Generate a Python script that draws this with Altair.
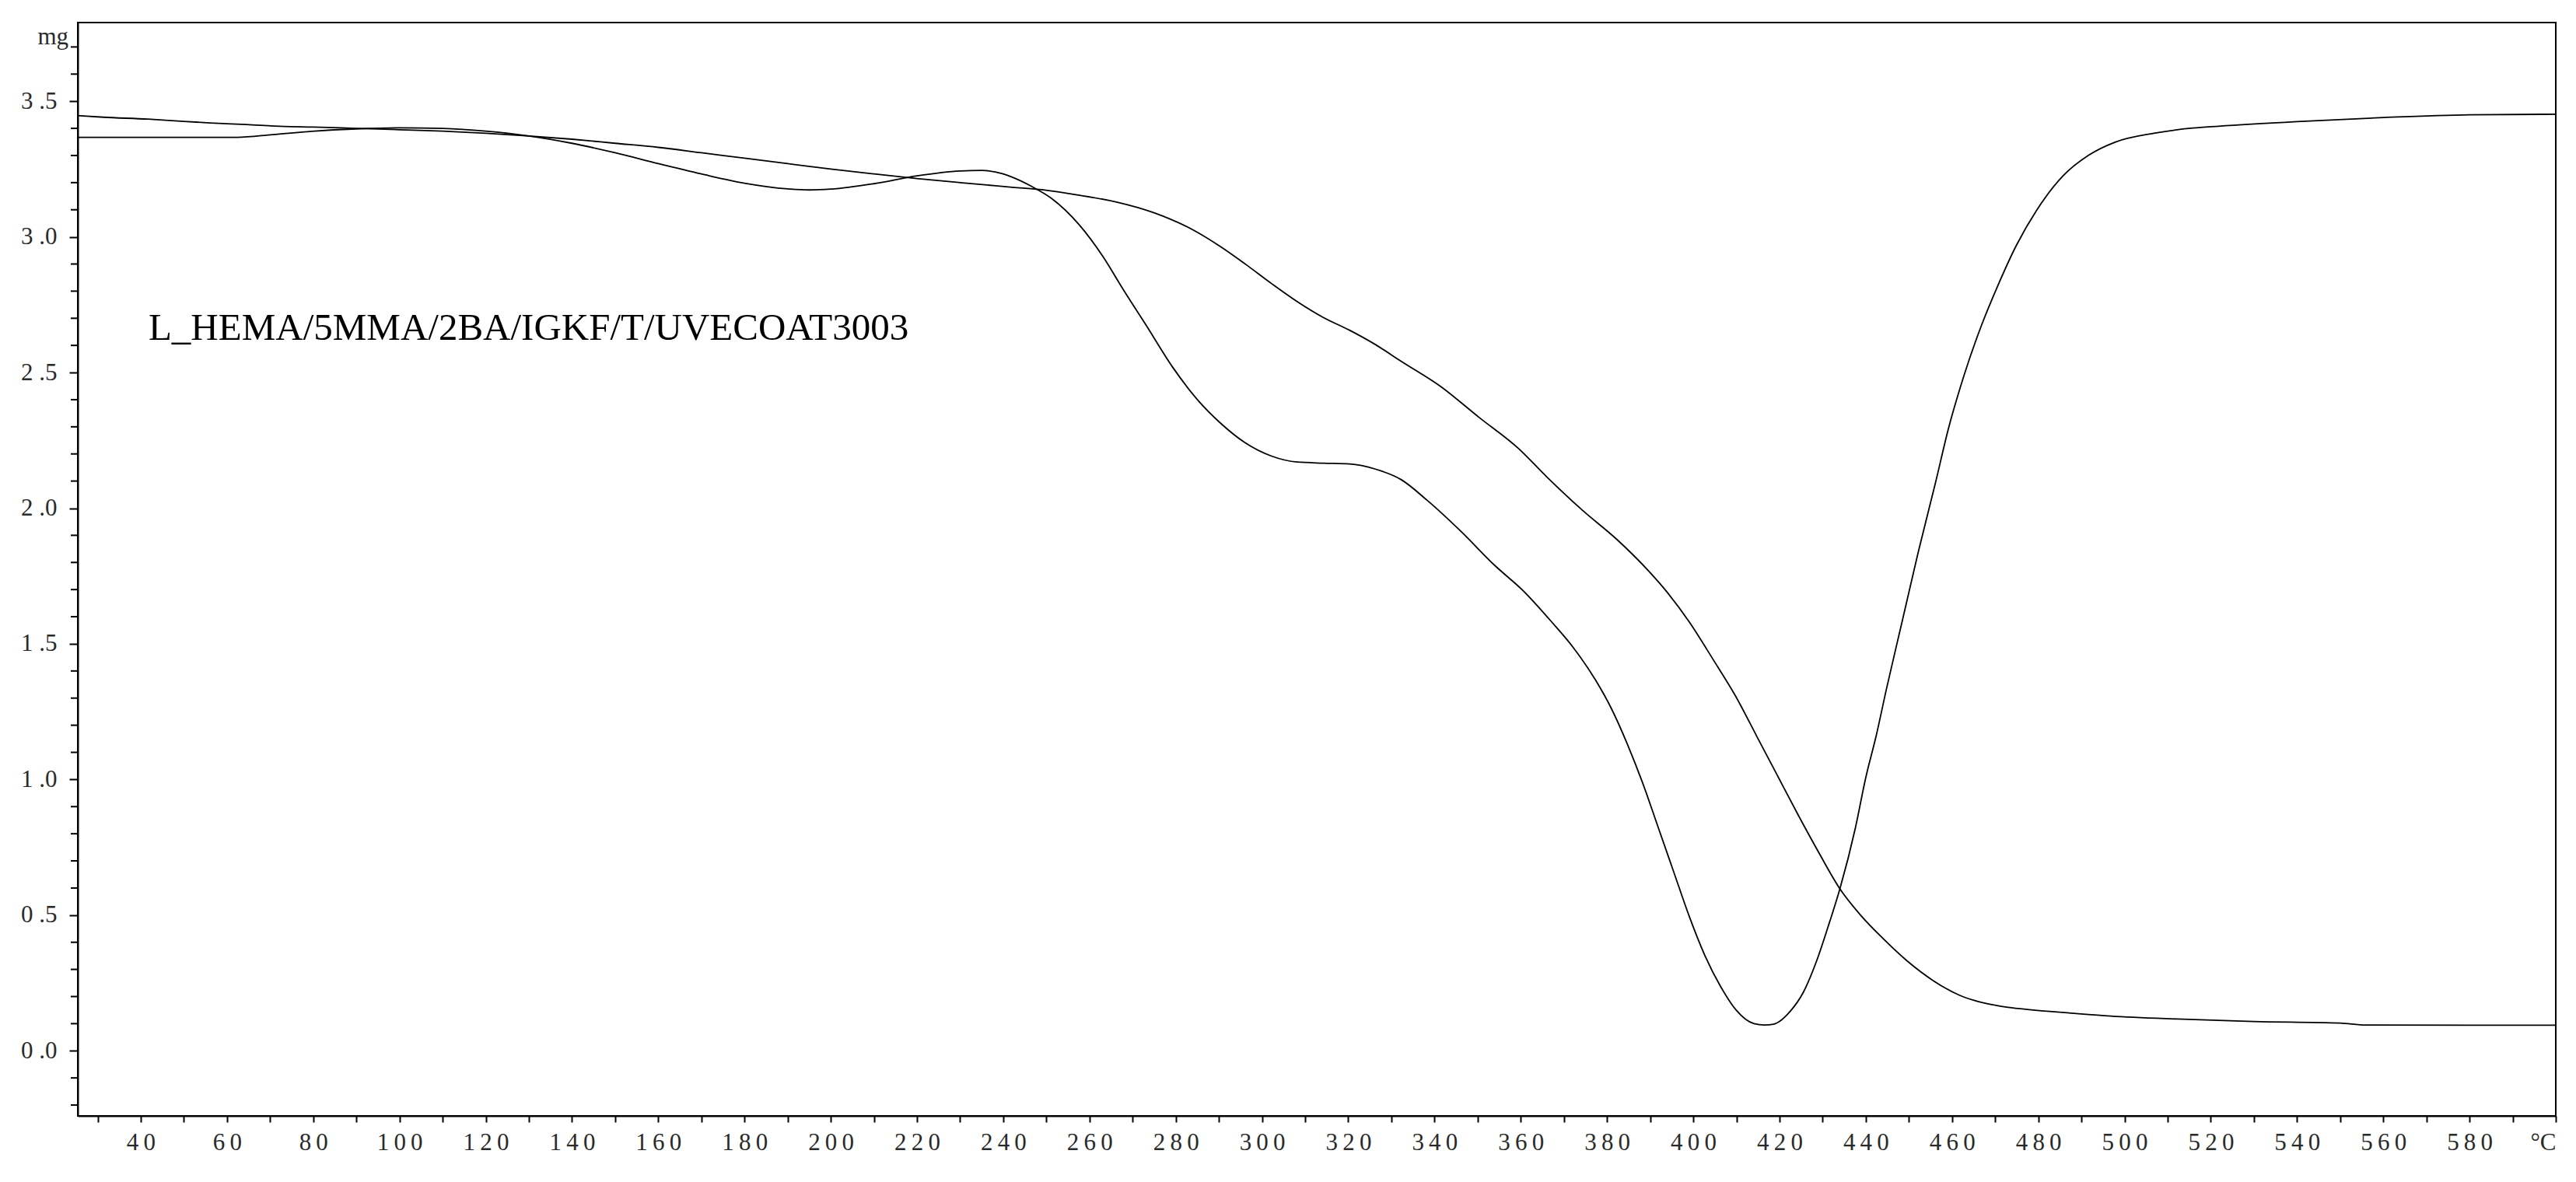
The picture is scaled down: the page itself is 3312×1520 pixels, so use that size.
import altair as alt
import pandas as pd

# --- data (temperature in °C, mass signal in mg) ---
tga_t = [25.4, 31.4, 41.7, 48.6, 56.1, 64.5, 73.3, 80, 90, 100, 110, 120, 130, 140, 150, 160, 170,
         180, 190, 200, 210, 220, 230, 242.1, 249.9, 257.1, 266.1, 275.1, 284.2, 290.2, 296.2,
         302.2, 308.2, 314.2, 320.3, 326.3, 332.3, 341.3, 350.3, 359.4, 366.0, 374.4, 382.2,
         389.5, 393.7, 399.1, 404.5, 409.9, 414.7, 419.5, 424.3, 429.2, 434.0, 438.8, 443.6,
         449.6, 455.6, 461.7, 467.7, 473.0, 478.4, 487.6, 496.8, 512.2, 530, 550, 556, 600]
tga_v = [3.447, 3.441, 3.434, 3.427, 3.420, 3.414, 3.407, 3.405, 3.400, 3.395, 3.390, 3.382, 3.372,
         3.360, 3.345, 3.330, 3.310, 3.290, 3.270, 3.250, 3.232, 3.215, 3.200, 3.183, 3.172, 3.155,
         3.129, 3.088, 3.024, 2.966, 2.899, 2.828, 2.761, 2.703, 2.656, 2.603, 2.541, 2.450, 2.335,
         2.221, 2.116, 1.991, 1.886, 1.771, 1.695, 1.580, 1.445, 1.305, 1.160, 1.015, 0.870, 0.728,
         0.597, 0.500, 0.420, 0.331, 0.259, 0.205, 0.175, 0.160, 0.151, 0.139, 0.128, 0.117, 0.108,
         0.102, 0.095, 0.094]

dtg_t = [25.4, 40, 62.4, 70.6, 79.6, 90, 100, 110, 120, 130, 140, 150, 160, 170, 180, 190, 195,
         200, 210, 220, 230, 235, 240, 242.1, 246.6, 251.1, 257.7, 263.1, 267.9, 273.3, 279.4,
         285.4, 290.2, 296.2, 302.2, 308.2, 314.2, 320.3, 326.3, 332.3, 338.3, 346.1, 353.9,
         360.6, 367.2, 372, 377.4, 381.0, 384.6, 388.2, 391.9, 395.5, 399.1, 402.7, 406.3, 409.9,
         414.1, 416.5, 418.6, 422.5, 425.6, 428.6, 431.6, 434.0, 437.6, 440.0, 442.4, 444.8,
         448.4, 452.2, 456.2, 459.2, 462.9, 466.5, 470.7, 474.9, 479.7, 485.7, 491.7, 497.8,
         506.8, 515.8, 521.8, 540, 560, 580, 600]
dtg_v = [3.367, 3.367, 3.367, 3.377, 3.389, 3.398, 3.402, 3.400, 3.390, 3.372, 3.345, 3.310, 3.270,
         3.232, 3.198, 3.177, 3.173, 3.176, 3.196, 3.225, 3.243, 3.245, 3.232, 3.220, 3.186, 3.143,
         3.043, 2.928, 2.804, 2.670, 2.517, 2.393, 2.316, 2.240, 2.192, 2.170, 2.166, 2.163, 2.144,
         2.105, 2.029, 1.915, 1.790, 1.695, 1.580, 1.490, 1.365, 1.262, 1.135, 0.990, 0.822, 0.658,
         0.494, 0.351, 0.238, 0.151, 0.100, 0.095, 0.098, 0.146, 0.218, 0.331, 0.474, 0.597,
         0.822, 1.007, 1.160, 1.334, 1.580, 1.840, 2.096, 2.295, 2.495, 2.660, 2.823, 2.968,
         3.100, 3.224, 3.301, 3.349, 3.382, 3.401, 3.408, 3.425, 3.440, 3.450, 3.452]

x_tick_values = list(range(30, 601, 10))
y_major_values = [0.0, 0.5, 1.0, 1.5, 2.0, 2.5, 3.0, 3.5]
y_minor_values = [-0.2, -0.1, 0.1, 0.2, 0.3, 0.4, 0.6, 0.7, 0.8, 0.9, 1.1, 1.2, 1.3, 1.4,
                  1.6, 1.7, 1.8, 1.9, 2.1, 2.2, 2.3, 2.4, 2.6, 2.7, 2.8, 2.9, 3.1, 3.2, 3.3,
                  3.4, 3.6, 3.7]

note_text = ["L_HEMA/5MMA/2BA/IGKF/T/UVECOAT3003"]
note_x = [41.8]
note_y = [2.62]

unit_text = ["mg"]
unit_y = [3.7]

# --- tables ---
curves = pd.concat([
    pd.DataFrame({"T": tga_t, "V": tga_v, "curve": "TGA"}),
    pd.DataFrame({"T": dtg_t, "V": dtg_v, "curve": "DTG"}),
], ignore_index=True)
notes = pd.DataFrame({"x": note_x, "y": note_y, "label": note_text})
units = pd.DataFrame({"y": unit_y, "label": unit_text})
minor = pd.DataFrame({"v": y_minor_values})

FONT = "Liberation Serif"
LABEL_COLOR = "#2a2a2a"
xscale = alt.Scale(domain=[25.4, 600], nice=False, zero=False)
yscale = alt.Scale(domain=[-0.24, 3.79], nice=False, zero=False)

THIN = "\u2009"

x_axis = alt.Axis(
    values=x_tick_values,
    format="d",
    labelExpr=("datum.value == 600 ? '°C' : (datum.value % 20 == 0 ? "
               "join(split(datum.label, ''), '" + THIN + "') : '')"),
    grid=False, tickSize=8, tickWidth=2, tickColor="black",
    domainColor="black", domainWidth=2,
    labelFont=FONT, labelFontSize=31, labelColor=LABEL_COLOR,
    labelPadding=11, labelOverlap=False, title="",
)
y_axis = alt.Axis(
    values=y_major_values,
    labelExpr="replace(format(datum.value, '.1f'), '.', ' .')",
    grid=False, tickSize=11, tickWidth=2, tickColor="black",
    domainColor="black", domainWidth=2,
    labelFont=FONT, labelFontSize=31, labelColor=LABEL_COLOR,
    labelPadding=16, labelOverlap=False, title="",
)

lines = alt.Chart(curves).mark_line(
    color="black", strokeWidth=1.8, interpolate="monotone"
).encode(
    x=alt.X("T:Q", scale=xscale, axis=x_axis),
    y=alt.Y("V:Q", scale=yscale, axis=y_axis),
    detail="curve:N",
)

minor_ticks = alt.Chart(minor).mark_rule(color="black", strokeWidth=2).encode(
    y=alt.Y("v:Q", scale=yscale),
    x=alt.value(-9),
    x2=alt.value(0),
)

note = alt.Chart(notes).mark_text(
    font=FONT, fontSize=49, align="left", baseline="alphabetic", color="black"
).encode(
    x=alt.X("x:Q", scale=xscale),
    y=alt.Y("y:Q", scale=yscale),
    text="label:N",
)

unit = alt.Chart(units).mark_text(
    font=FONT, fontSize=31, align="right", baseline="alphabetic", color=LABEL_COLOR, dy=-3
).encode(
    x=alt.value(-12),
    y=alt.Y("y:Q", scale=yscale),
    text="label:N",
)

chart = alt.layer(lines, minor_ticks, note, unit).properties(
    width=3186, height=1406,
    autosize=alt.AutoSizeParams(type="none"),
    padding={"left": 92, "top": 21, "right": 18, "bottom": 77},
    background="white",
).configure_view(stroke="black", strokeWidth=2)

chart.save("out.html", embed_options={"renderer": "svg", "actions": False})
